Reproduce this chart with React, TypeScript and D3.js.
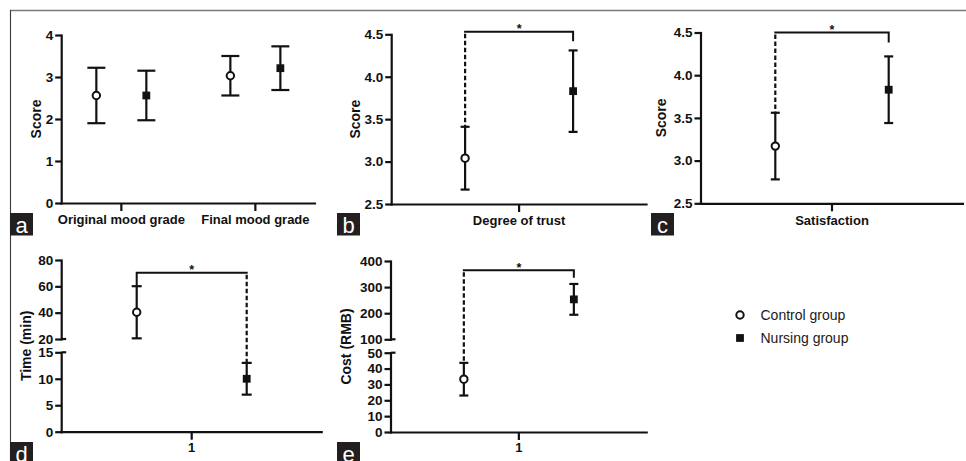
import React, { useEffect, useRef } from "react";
import * as d3 from "d3";

const groups = ["Control group", "Nursing group"];

// Panel a – mood grade
const moodCategories = ["Original mood grade", "Final mood grade"];
const moodControlMean = [2.56, 3.03];
const moodControlSD = [0.66, 0.47];
const moodNursingMean = [2.56, 3.21];
const moodNursingSD = [0.59, 0.52];
const moodTicks = [0, 1, 2, 3, 4];

// Panel b – degree of trust
const trustCategories = ["Degree of trust"];
const trustControlMean = [3.04];
const trustControlSD = [0.37];
const trustNursingMean = [3.83];
const trustNursingSD = [0.48];
const scoreTicks = [2.5, 3.0, 3.5, 4.0, 4.5];

// Panel c – satisfaction
const satisfactionCategories = ["Satisfaction"];
const satisfactionControlMean = [3.17];
const satisfactionControlSD = [0.39];
const satisfactionNursingMean = [3.83];
const satisfactionNursingSD = [0.39];

// Panel d – time (min), broken axis
const timeCategories = ["1"];
const timeControlMean = [40.3];
const timeControlSD = [19.8];
const timeNursingMean = [10.0];
const timeNursingSD = [3.0];
const timeTicksLower = [0, 5, 10, 15];
const timeTicksUpper = [20, 40, 60, 80];

// Panel e – cost (RMB), broken axis
const costCategories = ["1"];
const costControlMean = [33.3];
const costControlSD = [10.3];
const costNursingMean = [253];
const costNursingSD = [59];
const costTicksLower = [0, 10, 20, 30, 40, 50];
const costTicksUpper = [100, 200, 300, 400];

const panelLetters = ["a", "b", "c", "d", "e"];

type Seg = { domain: [number, number]; range: [number, number]; ticks: number[] };
type Cfg = {
  x0: number;
  x1: number;
  segs: Seg[];
  cats: string[];
  padding: number;
  offset: number;
  capHalf: number;
  means: number[][];
  sds: number[][];
  fmt: string;
  title: string;
  titleX: number;
  labelPad: number;
  sig?: { level: number; drop: number; dashed: number };
};

const FONT = "'Liberation Sans', Arial, Helvetica, sans-serif";
const INK = "#111";
const SW = 2.2;

function drawPanel(svg: any, cfg: Cfg) {
  const g = svg.append("g");
  const scales = cfg.segs.map((s) => d3.scaleLinear().domain(s.domain).range(s.range));
  const y = (v: number) => {
    for (let i = scales.length - 1; i > 0; i--) {
      if (v >= cfg.segs[i].domain[0]) return scales[i](v);
    }
    return scales[0](v);
  };
  const yBottom = cfg.segs[0].range[0];
  const yTop = cfg.segs[cfg.segs.length - 1].range[1];
  const x = d3.scalePoint<string>().domain(cfg.cats).range([cfg.x0, cfg.x1]).padding(cfg.padding);
  const xg = d3.scalePoint<string>().domain(groups).range([-cfg.offset, cfg.offset]);

  // y axis segments
  cfg.segs.forEach((s, i) => {
    const ax = d3
      .axisLeft(scales[i])
      .tickValues(s.ticks)
      .tickSize(6)
      .tickPadding(2)
      .tickSizeOuter(0)
      .tickFormat(d3.format(cfg.fmt) as any);
    const ag = g.append("g").attr("transform", `translate(${cfg.x0 - 0.5},0)`).call(ax);
    ag.select(".domain").attr("stroke", INK).attr("stroke-width", SW).attr("stroke-linecap", "square");
    ag.selectAll(".tick line").attr("stroke", INK).attr("stroke-width", SW);
    ag.selectAll(".tick text")
      .attr("fill", INK)
      .attr("font-size", 13.5)
      .attr("font-weight", "bold")
      .attr("font-family", FONT);
    // break marks
    if (cfg.segs.length > 1) {
      if (i < cfg.segs.length - 1) {
        g.append("line")
          .attr("x1", cfg.x0)
          .attr("x2", cfg.x0 + 4.5)
          .attr("y1", s.range[1])
          .attr("y2", s.range[1])
          .attr("stroke", INK)
          .attr("stroke-width", SW);
      }
      if (i > 0) {
        g.append("line")
          .attr("x1", cfg.x0)
          .attr("x2", cfg.x0 + 4.5)
          .attr("y1", s.range[0])
          .attr("y2", s.range[0])
          .attr("stroke", INK)
          .attr("stroke-width", SW);
      }
    }
  });

  // x axis
  const xa = d3.axisBottom(x).tickSize(8).tickPadding(cfg.labelPad).tickSizeOuter(0);
  const xag = g.append("g").attr("transform", `translate(-0.5,${yBottom})`).call(xa);
  xag.select(".domain").attr("stroke", INK).attr("stroke-width", SW).attr("stroke-linecap", "square");
  xag.selectAll(".tick line").attr("stroke", INK).attr("stroke-width", SW);
  xag.selectAll(".tick text")
    .attr("fill", INK)
    .attr("font-size", 13)
    .attr("font-weight", "bold")
    .attr("font-family", FONT);

  // y title
  g.append("text")
    .attr("transform", `translate(${cfg.titleX},${(yBottom + yTop) / 2}) rotate(-90)`)
    .attr("text-anchor", "middle")
    .attr("font-size", 14)
    .attr("font-weight", "bold")
    .attr("font-family", FONT)
    .attr("fill", INK)
    .text(cfg.title);

  // error bars and markers
  groups.forEach((gname, gi) => {
    cfg.cats.forEach((c, ci) => {
      const cx = (x(c) as number) + (xg(gname) as number);
      const m = cfg.means[gi][ci];
      const s = cfg.sds[gi][ci];
      const yl = y(m - s);
      const yh = y(m + s);
      const eb = g.append("g").attr("stroke", INK).attr("stroke-width", SW);
      eb.append("line").attr("x1", cx).attr("x2", cx).attr("y1", yl).attr("y2", yh);
      eb.append("line").attr("x1", cx - cfg.capHalf).attr("x2", cx + cfg.capHalf).attr("y1", yl).attr("y2", yl);
      eb.append("line").attr("x1", cx - cfg.capHalf).attr("x2", cx + cfg.capHalf).attr("y1", yh).attr("y2", yh);
      if (gi === 0) {
        g.append("circle")
          .attr("cx", cx)
          .attr("cy", y(m))
          .attr("r", 3.7)
          .attr("fill", "#fff")
          .attr("stroke", INK)
          .attr("stroke-width", 2);
      } else {
        g.append("rect")
          .attr("x", cx - 3.9)
          .attr("y", y(m) - 3.9)
          .attr("width", 7.8)
          .attr("height", 7.8)
          .attr("fill", INK);
      }
    });
  });

  // significance bracket
  if (cfg.sig) {
    const c0 = cfg.cats[0];
    const xs = groups.map((gname) => (x(c0) as number) + (xg(gname) as number));
    const yb = y(cfg.sig.level);
    const di = cfg.sig.dashed;
    const si = 1 - di;
    g.append("path")
      .attr("d", `M${xs[si]},${yb + cfg.sig.drop}V${yb}H${xs[di]}`)
      .attr("fill", "none")
      .attr("stroke", INK)
      .attr("stroke-width", 2)
      .attr("stroke-linecap", "square");
    const top = y(cfg.means[di][0] + cfg.sds[di][0]);
    g.append("line")
      .attr("x1", xs[di])
      .attr("x2", xs[di])
      .attr("y1", yb + 2)
      .attr("y2", top)
      .attr("stroke", INK)
      .attr("stroke-width", SW)
      .attr("stroke-dasharray", "4.5,2.5");
    g.append("text")
      .attr("x", (xs[0] + xs[1]) / 2)
      .attr("y", yb + 1.5)
      .attr("text-anchor", "middle")
      .attr("font-size", 12.5)
      .attr("font-weight", "bold")
      .attr("font-family", FONT)
      .attr("fill", INK)
      .text("*");
  }
}

export default function App() {
  const ref = useRef<SVGSVGElement>(null);
  useEffect(() => {
    const svg = d3.select(ref.current);
    svg.selectAll("*").remove();

    // figure frame lines
    svg.append("line").attr("x1", 10).attr("x2", 966).attr("y1", 10.5).attr("y2", 10.5).attr("stroke", "#7a7a7a").attr("stroke-width", 1.3);
    svg.append("line").attr("x1", 10.5).attr("x2", 10.5).attr("y1", 10).attr("y2", 461).attr("stroke", "#3a3a3a").attr("stroke-width", 1.1);

    const panels: Cfg[] = [
      {
        x0: 61.7, x1: 315, cats: moodCategories, padding: 0.445, offset: 25, capHalf: 9,
        segs: [{ domain: [0, 4], range: [203, 35], ticks: moodTicks }],
        means: [moodControlMean, moodNursingMean], sds: [moodControlSD, moodNursingSD],
        fmt: "d", title: "Score", titleX: 40.5, labelPad: 4,
      },
      {
        x0: 391.7, x1: 646.5, cats: trustCategories, padding: 0.5, offset: 54, capHalf: 4.5,
        segs: [{ domain: [2.5, 4.5], range: [204, 34.3], ticks: scoreTicks }],
        means: [trustControlMean, trustNursingMean], sds: [trustControlSD, trustNursingSD],
        fmt: ".1f", title: "Score", titleX: 359.5, labelPad: 4,
        sig: { level: 4.53, drop: 8.4, dashed: 0 },
      },
      {
        x0: 701, x1: 963, cats: satisfactionCategories, padding: 0.5, offset: 56.7, capHalf: 4.5,
        segs: [{ domain: [2.5, 4.5], range: [203.3, 32.5], ticks: scoreTicks }],
        means: [satisfactionControlMean, satisfactionNursingMean], sds: [satisfactionControlSD, satisfactionNursingSD],
        fmt: ".1f", title: "Score", titleX: 666, labelPad: 4,
        sig: { level: 4.5, drop: 9, dashed: 0 },
      },
      {
        x0: 61.7, x1: 321.7, cats: timeCategories, padding: 0.5, offset: 55, capHalf: 5,
        segs: [
          { domain: [0, 15], range: [431.7, 352.3], ticks: timeTicksLower },
          { domain: [20, 80], range: [339, 260], ticks: timeTicksUpper },
        ],
        means: [timeControlMean, timeNursingMean], sds: [timeControlSD, timeNursingSD],
        fmt: "d", title: "Time (min)", titleX: 30.5, labelPad: 3,
        sig: { level: 70.3, drop: 13.3, dashed: 1 },
      },
      {
        x0: 391, x1: 646.7, cats: costCategories, padding: 0.5, offset: 55, capHalf: 4.5,
        segs: [
          { domain: [0, 50], range: [432, 352.7], ticks: costTicksLower },
          { domain: [100, 400], range: [339.3, 261], ticks: costTicksUpper },
        ],
        means: [costControlMean, costNursingMean], sds: [costControlSD, costNursingSD],
        fmt: "d", title: "Cost (RMB)", titleX: 351, labelPad: 3,
        sig: { level: 365, drop: 6.7, dashed: 0 },
      },
    ];
    panels.forEach((p) => drawPanel(svg, p));

    // panel letters (the bottom row is clipped by the figure edge, as in the source)
    const letterBoxes = [
      [10, 213], [337, 213], [651, 213], [10, 442], [337, 442],
    ];
    panelLetters.forEach((l, i) => {
      const [bx, by] = letterBoxes[i];
      svg.append("rect").attr("x", bx).attr("y", by).attr("width", 23).attr("height", 22.5).attr("fill", "#231f20");
      svg.append("text")
        .attr("x", bx + 11.5)
        .attr("y", by + 19.5)
        .attr("text-anchor", "middle")
        .attr("font-size", 22)
        .attr("font-family", FONT)
        .attr("fill", "#fff")
        .text(l);
    });

    // legend
    const legendY = d3.scalePoint<string>().domain(groups).range([315, 338]);
    groups.forEach((gname, gi) => {
      const ly = legendY(gname) as number;
      if (gi === 0) {
        svg.append("circle").attr("cx", 740).attr("cy", ly).attr("r", 3.7).attr("fill", "#fff").attr("stroke", INK).attr("stroke-width", 2);
      } else {
        svg.append("rect").attr("x", 736.1).attr("y", ly - 3.9).attr("width", 7.8).attr("height", 7.8).attr("fill", INK);
      }
      svg.append("text")
        .attr("x", 760.5)
        .attr("y", ly + 5)
        .attr("font-size", 14)
        .attr("font-family", FONT)
        .attr("fill", "#1a1a1a")
        .text(gname);
    });
  }, []);
  return (
    <svg
      ref={ref}
      width={966}
      height={461}
      style={{ position: "absolute", left: 0, top: 0, background: "#fff" }}
    />
  );
}
